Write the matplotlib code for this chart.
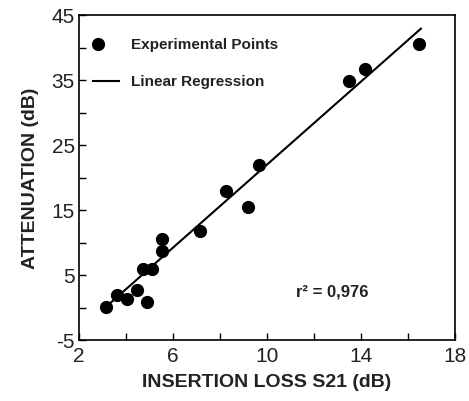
import numpy as np
import matplotlib.pyplot as plt

# Experimental points
insertion_loss = [3.13, 3.63, 4.06, 4.45, 4.71, 4.91, 5.09, 5.52, 5.52,
                  7.16, 8.24, 9.18, 9.66, 13.5, 14.17, 16.48]
attenuation = [0.1, 2.0, 1.3, 2.7, 5.9, 0.9, 6.0, 8.7, 10.5,
               11.8, 18.0, 15.4, 22.0, 34.9, 36.7, 40.6]

# Regression line end points
reg_x = [3.32, 16.55]
reg_y = [0.65, 42.9]

x_ticks = [2, 6, 10, 14, 18]
y_ticks = [-5, 5, 15, 25, 35, 45]
x_minor = [4, 8, 12, 16]
y_minor = [0, 10, 20, 30, 40]

plt.rcParams['font.family'] = ['Liberation Sans', 'DejaVu Sans']
plt.rcParams['axes.unicode_minus'] = False

fig = plt.figure(figsize=(4.69, 4.02), dpi=100)
ax = fig.add_axes([79 / 469, 1 - 341 / 402, 376 / 469, 325 / 402])

ax.plot(reg_x, reg_y, color='black', linewidth=1.5)
ax.plot(insertion_loss, attenuation, 'o', color='black', markersize=8.5)

ax.set_xlim(2, 18)
ax.set_ylim(-5, 45)
ax.set_xticks(x_ticks)
ax.set_yticks(y_ticks)
ax.xaxis.set_minor_locator(plt.FixedLocator(x_minor))
ax.yaxis.set_minor_locator(plt.FixedLocator(y_minor))
ax.tick_params(which='both', direction='in', width=1, length=5,
               colors='black', labelsize=15, labelcolor='#222222')
ax.tick_params(axis='x', pad=4)
ax.tick_params(axis='y', pad=3)
for s in ax.spines.values():
    s.set_linewidth(1.2)

ax.set_xlabel('INSERTION LOSS S21 (dB)', fontsize=14, fontweight='bold',
              color='#222222', labelpad=6)
ax.set_ylabel('ATTENUATION (dB)', fontsize=14, fontweight='bold',
              color='#222222', labelpad=9)

# hand-made legend
ax.plot([2.8], [40.6], 'o', color='black', markersize=8.5)
ax.text(4.2, 40.6, 'Experimental Points', fontsize=11, fontweight='bold',
        va='center', color='#222222')
ax.plot([2.6, 3.7], [34.8, 34.8], color='black', linewidth=1.5)
ax.text(4.2, 34.8, 'Linear Regression', fontsize=11, fontweight='bold',
        va='center', color='#222222')

ax.text(11.25, 2.6, 'r² = 0,976', fontsize=12, fontweight='bold',
        va='center', color='#222222')

fig.savefig('out.png', dpi=100)
